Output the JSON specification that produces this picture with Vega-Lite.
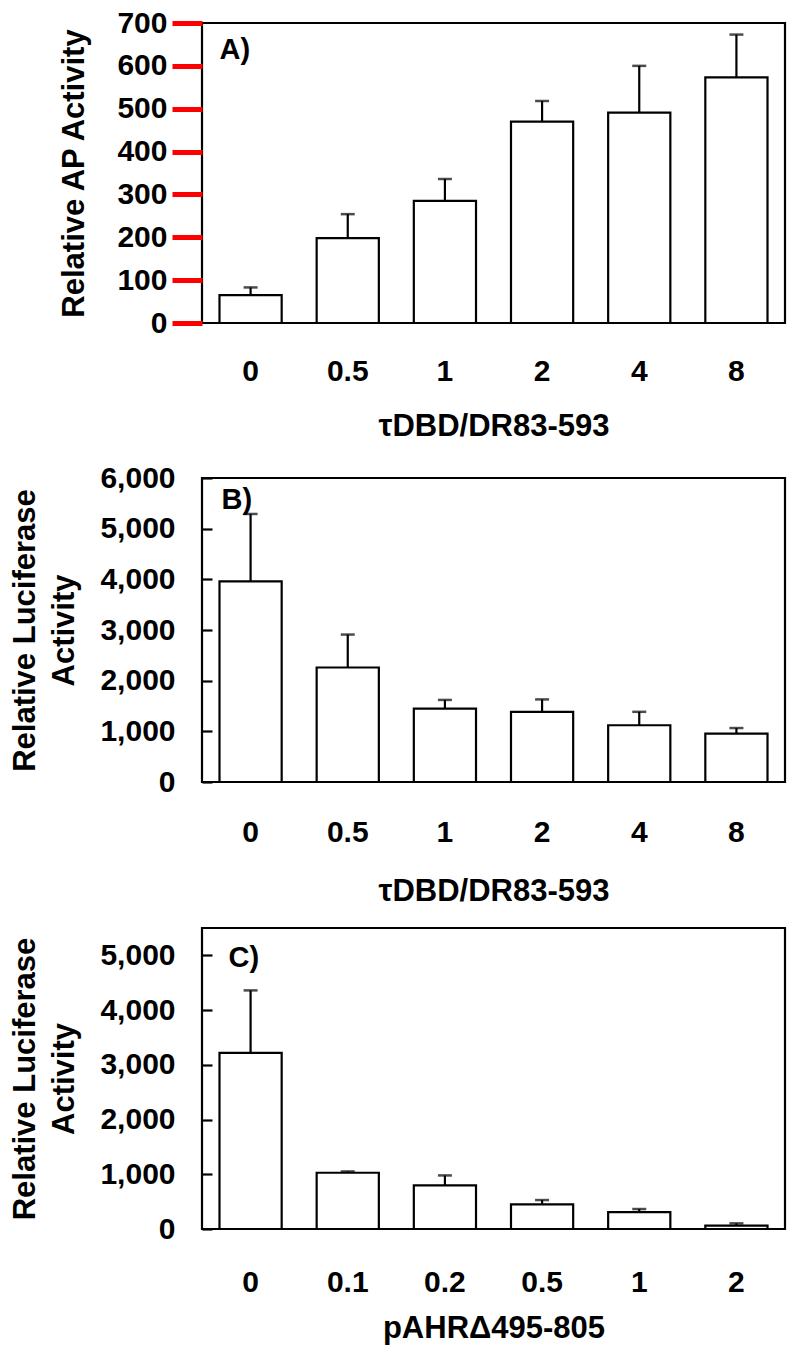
{
  "$schema": "https://vega.github.io/schema/vega-lite/v6.json",
  "background": "white",
  "padding": {"left": 8, "top": 6, "right": 5, "bottom": 0},
  "spacing": 18,
  "config": {
    "view": {"stroke": "black", "strokeWidth": 2.2},
    "font": "Liberation Sans",
    "axis": {
      "labelFont": "Liberation Sans", "labelFontWeight": "bold", "labelFontSize": 30, "labelColor": "black",
      "titleFont": "Liberation Sans", "titleFontWeight": "bold", "titleFontSize": 31, "titleColor": "black",
      "grid": false, "domain": false
    },
    "axisX": {"ticks": false, "labelAngle": 0}
  },
  "vconcat": [
    {
      "width": 583, "height": 300,
      "data": {"values": [
        {"dose": "0", "mean": 65, "upper": 83},
        {"dose": "0.5", "mean": 198, "upper": 254},
        {"dose": "1", "mean": 285, "upper": 336},
        {"dose": "2", "mean": 470, "upper": 518},
        {"dose": "4", "mean": 491, "upper": 600},
        {"dose": "8", "mean": 573, "upper": 673}
      ]},
      "encoding": {
        "x": {"field": "dose", "type": "ordinal",
          "scale": {"domain": ["0", "0.5", "1", "2", "4", "8"], "paddingInner": 0.36, "paddingOuter": 0.18},
          "axis": {"title": "τDBD/DR83-593", "labelPadding": 33, "titlePadding": 25}}
      },
      "layer": [
        {"mark": {"type": "bar", "fill": "white", "stroke": "black", "strokeWidth": 2.2},
         "encoding": {"y": {"field": "mean", "type": "quantitative",
           "scale": {"domain": [0, 700], "nice": false},
           "axis": {"title": "Relative AP Activity",
             "values": [0, 50, 100, 150, 200, 250, 300, 350, 400, 450, 500, 550, 600, 650, 700],
             "labelExpr": "datum.value % 100 === 0 ? datum.label : ''",
             "ticks": true, "tickSize": 30, "tickColor": "red", "tickWidth": 5, "tickOpacity": 1,
             "labelPadding": 5, "titlePadding": 26}}}},
        {"mark": {"type": "rule", "color": "black", "strokeWidth": 2.2},
         "encoding": {"y": {"field": "mean", "type": "quantitative"}, "y2": {"field": "upper"}}},
        {"mark": {"type": "tick", "color": "black", "thickness": 2.5, "size": 14},
         "encoding": {"y": {"field": "upper", "type": "quantitative"}}},
        {"data": {"values": [{"dose": "0", "v": 637, "label": "A)"}]},
         "mark": {"type": "text", "align": "left", "baseline": "middle", "dx": -31, "fontSize": 29, "fontWeight": "bold", "font": "Liberation Sans", "color": "black"},
         "encoding": {"y": {"field": "v", "type": "quantitative"}, "text": {"field": "label"}}}
      ]
    },
    {
      "width": 583, "height": 304,
      "data": {"values": [
        {"dose": "0", "mean": 3960, "upper": 5290},
        {"dose": "0.5", "mean": 2260, "upper": 2910},
        {"dose": "1", "mean": 1450, "upper": 1620},
        {"dose": "2", "mean": 1385, "upper": 1630},
        {"dose": "4", "mean": 1120, "upper": 1385},
        {"dose": "8", "mean": 955, "upper": 1065}
      ]},
      "encoding": {
        "x": {"field": "dose", "type": "ordinal",
          "scale": {"domain": ["0", "0.5", "1", "2", "4", "8"], "paddingInner": 0.36, "paddingOuter": 0.18},
          "axis": {"title": "τDBD/DR83-593", "labelPadding": 35, "titlePadding": 29}}
      },
      "layer": [
        {"mark": {"type": "bar", "fill": "white", "stroke": "black", "strokeWidth": 2.2},
         "encoding": {"y": {"field": "mean", "type": "quantitative",
           "scale": {"domain": [0, 6000], "nice": false},
           "axis": {"title": ["Relative Luciferase", "Activity"], "titleLineHeight": 39,
             "values": [0, 500, 1000, 1500, 2000, 2500, 3000, 3500, 4000, 4500, 5000, 5500, 6000],
             "format": ",d",
             "labelExpr": "datum.value % 1000 === 0 ? datum.label : ''",
             "ticks": true, "tickSize": 10, "tickColor": "black", "tickWidth": 2.2, "offset": -10,
             "labelPadding": 27, "titlePadding": 19}}}},
        {"mark": {"type": "rule", "color": "black", "strokeWidth": 2.2},
         "encoding": {"y": {"field": "mean", "type": "quantitative"}, "y2": {"field": "upper"}}},
        {"mark": {"type": "tick", "color": "black", "thickness": 2.5, "size": 14},
         "encoding": {"y": {"field": "upper", "type": "quantitative"}}},
        {"data": {"values": [{"dose": "0", "v": 5566, "label": "B)"}]},
         "mark": {"type": "text", "align": "left", "baseline": "middle", "dx": -29, "fontSize": 29, "fontWeight": "bold", "font": "Liberation Sans", "color": "black"},
         "encoding": {"y": {"field": "v", "type": "quantitative"}, "text": {"field": "label"}}}
      ]
    },
    {
      "width": 583, "height": 301,
      "data": {"values": [
        {"dose": "0", "mean": 3220, "upper": 4360},
        {"dose": "0.1", "mean": 1028, "upper": 1052},
        {"dose": "0.2", "mean": 797, "upper": 979},
        {"dose": "0.5", "mean": 450, "upper": 529},
        {"dose": "1", "mean": 310, "upper": 365},
        {"dose": "2", "mean": 61, "upper": 103}
      ]},
      "encoding": {
        "x": {"field": "dose", "type": "ordinal",
          "scale": {"domain": ["0", "0.1", "0.2", "0.5", "1", "2"], "paddingInner": 0.36, "paddingOuter": 0.18},
          "axis": {"title": "pAHRΔ495-805", "labelPadding": 38, "titlePadding": 16}}
      },
      "layer": [
        {"mark": {"type": "bar", "fill": "white", "stroke": "black", "strokeWidth": 2.2},
         "encoding": {"y": {"field": "mean", "type": "quantitative",
           "scale": {"domain": [0, 5500], "nice": false},
           "axis": {"title": ["Relative Luciferase", "Activity"], "titleLineHeight": 39,
             "values": [0, 500, 1000, 1500, 2000, 2500, 3000, 3500, 4000, 4500, 5000],
             "format": ",d",
             "labelExpr": "datum.value % 1000 === 0 ? datum.label : ''",
             "ticks": true, "tickSize": 10, "tickColor": "black", "tickWidth": 2.2, "offset": -10,
             "labelPadding": 27, "titlePadding": 19}}}},
        {"mark": {"type": "rule", "color": "black", "strokeWidth": 2.2},
         "encoding": {"y": {"field": "mean", "type": "quantitative"}, "y2": {"field": "upper"}}},
        {"mark": {"type": "tick", "color": "black", "thickness": 2.5, "size": 14},
         "encoding": {"y": {"field": "upper", "type": "quantitative"}}},
        {"data": {"values": [{"dose": "0", "v": 4943, "label": "C)"}]},
         "mark": {"type": "text", "align": "left", "baseline": "middle", "dx": -22, "fontSize": 29, "fontWeight": "bold", "font": "Liberation Sans", "color": "black"},
         "encoding": {"y": {"field": "v", "type": "quantitative"}, "text": {"field": "label"}}}
      ]
    }
  ]
}
